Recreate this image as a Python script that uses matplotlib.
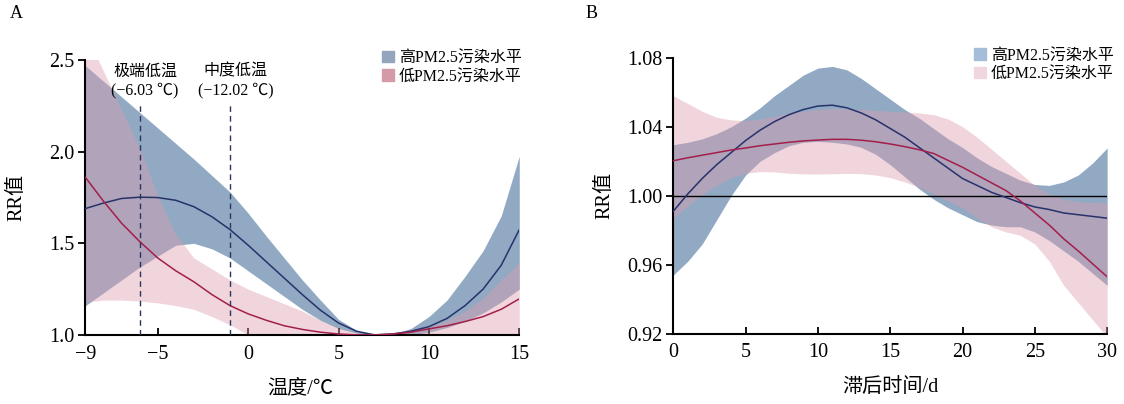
import numpy as np
import matplotlib
matplotlib.use('Agg')
import matplotlib.pyplot as plt
from matplotlib.patches import Patch

plt.rcParams['font.family'] = ['Liberation Serif', 'Noto Sans CJK SC']
plt.rcParams['axes.unicode_minus'] = True

# ---- panel A: temperature - RR ----
temp = np.arange(-9, 16)
high_rr = [1.69, 1.72, 1.745, 1.752, 1.75, 1.735, 1.70, 1.645, 1.575, 1.49, 1.40, 1.31, 1.22,
           1.135, 1.065, 1.02, 1.0, 1.005, 1.02, 1.045, 1.09, 1.16, 1.25, 1.38, 1.575]
high_up = [2.47, 2.385, 2.30, 2.215, 2.13, 2.045, 1.96, 1.87, 1.78, 1.665, 1.54, 1.42, 1.30,
           1.19, 1.085, 1.025, 1.0, 1.005, 1.035, 1.10, 1.19, 1.32, 1.46, 1.65, 1.976]
high_lo = [1.16, 1.23, 1.30, 1.37, 1.43, 1.49, 1.50, 1.47, 1.42, 1.35, 1.28, 1.21, 1.14,
           1.08, 1.035, 1.01, 1.0, 0.995, 1.0, 1.015, 1.04, 1.075, 1.12, 1.18, 1.25]
low_rr = [1.86, 1.73, 1.61, 1.51, 1.42, 1.35, 1.29, 1.22, 1.16, 1.115, 1.08, 1.05, 1.03,
          1.015, 1.005, 1.0, 1.0, 1.005, 1.015, 1.033, 1.05, 1.073, 1.10, 1.14, 1.197]
low_up = [2.65, 2.44, 2.23, 2.02, 1.76, 1.55, 1.42, 1.36, 1.30, 1.25, 1.21, 1.17, 1.13,
          1.08, 1.04, 1.01, 1.0, 1.01, 1.025, 1.045, 1.08, 1.13, 1.20, 1.30, 1.394]
low_lo = [1.18, 1.19, 1.19, 1.185, 1.175, 1.16, 1.14, 1.10, 1.055, 1.0, 0.97, 0.96, 0.95,
          0.95, 0.96, 0.98, 1.0, 0.99, 0.98, 0.98, 0.98, 0.98, 0.98, 0.98, 0.98]

# ---- panel B: lag days - RR ----
lag = np.arange(0, 31)
high_rr_b = [0.991, 1.001, 1.010, 1.018, 1.025, 1.032, 1.038, 1.043, 1.047, 1.050, 1.052,
             1.0525, 1.051, 1.048, 1.044, 1.039, 1.034, 1.028, 1.022, 1.016, 1.010, 1.006,
             1.002, 0.999, 0.996, 0.9935, 0.992, 0.990, 0.989, 0.988, 0.987]
high_up_b = [1.0296, 1.031, 1.033, 1.036, 1.040, 1.045, 1.051, 1.058, 1.064, 1.070, 1.074,
             1.075, 1.073, 1.068, 1.062, 1.056, 1.050, 1.045, 1.039, 1.033, 1.028, 1.022,
             1.017, 1.013, 1.009, 1.0065, 1.006, 1.008, 1.012, 1.019, 1.0277]
high_lo_b = [0.954, 0.962, 0.972, 0.986, 1.000, 1.012, 1.020, 1.025, 1.029, 1.031, 1.0315,
             1.031, 1.030, 1.028, 1.024, 1.018, 1.011, 1.004, 0.998, 0.993, 0.989, 0.985,
             0.983, 0.982, 0.982, 0.979, 0.974, 0.968, 0.962, 0.955, 0.948]
low_rr_b = [1.0203, 1.022, 1.0235, 1.025, 1.0265, 1.0277, 1.029, 1.030, 1.031, 1.0318, 1.0323,
            1.0327, 1.0327, 1.0322, 1.0313, 1.030, 1.0285, 1.0267, 1.0245, 1.0205, 1.0165,
            1.012, 1.0075, 1.003, 0.997, 0.990, 0.983, 0.975, 0.968, 0.9605, 0.953]
low_up_b = [1.058, 1.0535, 1.049, 1.0455, 1.044, 1.0435, 1.0445, 1.046, 1.048, 1.049, 1.050,
            1.0505, 1.0505, 1.050, 1.0495, 1.049, 1.0485, 1.048, 1.047, 1.0445, 1.040, 1.034,
            1.027, 1.020, 1.013, 1.006, 1.001, 0.998, 0.9965, 0.996, 0.996]
low_lo_b = [0.987, 0.994, 1.0005, 1.006, 1.0105, 1.013, 1.014, 1.0138, 1.013, 1.0127, 1.0126,
            1.0127, 1.013, 1.0128, 1.012, 1.0105, 1.008, 1.005, 1.001, 0.997, 0.993, 0.987,
            0.982, 0.979, 0.977, 0.972, 0.962, 0.948, 0.938, 0.928, 0.918]

labels = ['高PM2.5污染水平', '低PM2.5污染水平']
cold_lines = [-6, -1]
cold_text = ['极端低温\n(−6.03 ℃)', '中度低温\n(−12.02 ℃)']

blue_fill = '#91a9c3'
pink_fill = '#dd9dae'
blue_line = '#27326b'
red_line = '#a31f4b'

fig = plt.figure(figsize=(11.24, 4.04), dpi=100)
axA = fig.add_axes([0.076, 0.171, 0.386, 0.68])
axB = fig.add_axes([0.599, 0.174, 0.386, 0.683])


def draw(ax, x, hr, hu, hl, lr, lu, ll):
    ax.fill_between(x, hl, hu, color=blue_fill, lw=0, zorder=1)
    ax.fill_between(x, ll, lu, color=pink_fill, alpha=0.42, lw=0, zorder=2)
    ax.plot(x, hr, color=blue_line, lw=1.1, zorder=4)
    ax.plot(x, lr, color=red_line, lw=1.1, zorder=4)


def style(ax):
    for s in ['top', 'right']:
        ax.spines[s].set_visible(False)
    for s in ['left', 'bottom']:
        ax.spines[s].set_linewidth(1.5)
    ax.tick_params(axis='x', direction='in', length=5, width=1.3, labelsize=14.5, pad=7)
    ax.tick_params(axis='y', direction='out', length=5, width=1.3, labelsize=14.5, pad=3)


draw(axA, temp, high_rr, high_up, high_lo, low_rr, low_up, low_lo)
for xv, t in zip(cold_lines, cold_text):
    axA.plot([xv, xv], [1.0, 2.27], color='#2b3560', lw=1.0, ls=(0, (4, 3)), zorder=5)
    axA.text(xv + 0.3, 2.385, t, ha='center', va='center', fontsize=11.5, linespacing=1.25)
axA.set_xlim(-9, 15)
axA.set_ylim(1.0, 2.5)
axA.set_xticks([-9, -5, 0, 5, 10, 15])
axA.set_xticklabels(['−9', '−5', '0', '5', '10', '15'])
axA.set_yticks([1.0, 1.5, 2.0, 2.5])
axA.set_yticklabels(['1.0', '1.5', '2.0', '2.5'])
style(axA)
axA.set_xlabel('温度/℃', fontsize=14.5)
axA.xaxis.set_label_coords(0.494, -0.16)
axA.set_ylabel('RR值', fontsize=14.5)
axA.yaxis.set_label_coords(-0.135, 0.5)
axA.legend(handles=[Patch(color='#93a6be'), Patch(color='#d59aa8')], labels=labels,
           loc='upper right', bbox_to_anchor=(1.02, 1.06), frameon=False, fontsize=11.5,
           handlelength=0.75, handleheight=0.75, handletextpad=0.3, labelspacing=0.15,
           borderaxespad=0)

draw(axB, lag, high_rr_b, high_up_b, high_lo_b, low_rr_b, low_up_b, low_lo_b)
axB.axhline(1.0, color='black', lw=1.0, zorder=3)
axB.set_xlim(0, 30)
axB.set_ylim(0.92, 1.08)
axB.set_xticks(range(0, 31, 5))
axB.set_yticks([0.92, 0.96, 1.00, 1.04, 1.08])
axB.set_yticklabels(['0.92', '0.96', '1.00', '1.04', '1.08'])
style(axB)
axB.set_xlabel('滞后时间/d', fontsize=14.5)
axB.xaxis.set_label_coords(0.5, -0.16)
axB.set_ylabel('RR值', fontsize=14.5)
axB.yaxis.set_label_coords(-0.135, 0.5)
axB.legend(handles=[Patch(color='#a5bdd8'), Patch(color='#f0d7df')], labels=labels,
           loc='upper right', bbox_to_anchor=(1.03, 1.06), frameon=False, fontsize=11.5,
           handlelength=0.75, handleheight=0.75, handletextpad=0.3, labelspacing=0.15,
           borderaxespad=0)

fig.text(0.009, 0.955, 'A', fontsize=13)
fig.text(0.521, 0.955, 'B', fontsize=13)

fig.savefig('out.png', dpi=100)
